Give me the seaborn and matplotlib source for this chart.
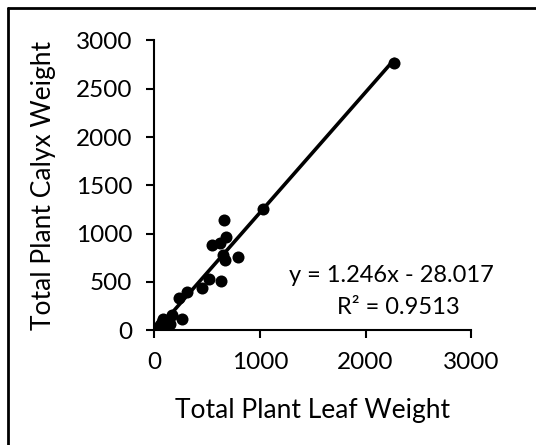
import matplotlib
matplotlib.use("Agg")
import matplotlib.pyplot as plt
import seaborn as sns
import numpy as np
import pandas as pd
from matplotlib.lines import Line2D

leaf_weight = [2273, 1029, 663, 543, 622, 679, 647, 672, 796, 518, 628, 448, 306,
               234, 259, 167, 85, 148, 54, 22, 40, 70, 110, 130, 95, 60]
calyx_weight = [2768, 1260, 1139, 880, 904, 960, 777, 732, 759, 525, 507, 442, 397,
                335, 121, 162, 114, 62, 52, 7, 30, 80, 100, 60, 40, 20]
slope = 1.246
intercept = -28.017
equation_text = "y = 1.246x - 28.017"
r2_text = "R\u00b2 = 0.9513"
x_ticks = [0, 1000, 2000, 3000]
y_ticks = [0, 500, 1000, 1500, 2000, 2500, 3000]

df = pd.DataFrame({"leaf": leaf_weight, "calyx": calyx_weight})
x_line = np.array([min(leaf_weight), max(leaf_weight)])
line_df = pd.DataFrame({"leaf": x_line, "calyx": slope * x_line + intercept})

sns.set_theme(style="white")
plt.rcParams["font.family"] = ["Lato", "DejaVu Sans"]

fig = plt.figure(figsize=(5.36, 4.45), dpi=100)
ax = fig.add_axes([0.288, 0.258, 0.591, 0.651])

sns.lineplot(data=line_df, x="leaf", y="calyx", ax=ax, color="black", linewidth=2.6)
sns.scatterplot(data=df, x="leaf", y="calyx", ax=ax, color="black", s=75,
                edgecolor="black", linewidth=0, zorder=3)

ax.set_xlim(0, 3000)
ax.set_ylim(0, 3000)
ax.set_xticks(x_ticks)
ax.set_yticks(y_ticks)
ax.tick_params(axis="both", which="major", labelsize=17.5, length=6, width=1.5,
               direction="out", color="black", labelcolor="black", pad=10,
               bottom=True, left=True)
for s in ["top", "right"]:
    ax.spines[s].set_visible(False)
for s in ["left", "bottom"]:
    ax.spines[s].set_color("black")
    ax.spines[s].set_linewidth(1.5)

ax.set_xlabel("Total Plant Leaf Weight", fontsize=19, color="black", labelpad=18)
ax.set_ylabel("Total Plant Calyx Weight", fontsize=19, color="black", labelpad=14)

ax.text(0.747, 0.19, equation_text, transform=ax.transAxes, ha="center", va="center",
        fontsize=17, color="black")
ax.text(0.770, 0.079, r2_text, transform=ax.transAxes, ha="center", va="center",
        fontsize=17, color="black")

# outer chart frame (left and top edges visible)
fig.add_artist(Line2D([7.5/536, 7.5/536], [0, 1 - 8/445], transform=fig.transFigure,
                      color="black", linewidth=2))
fig.add_artist(Line2D([7.5/536, 1], [1 - 8/445, 1 - 8/445], transform=fig.transFigure,
                      color="black", linewidth=2))

fig.savefig("out.png", dpi=100, facecolor="white")
